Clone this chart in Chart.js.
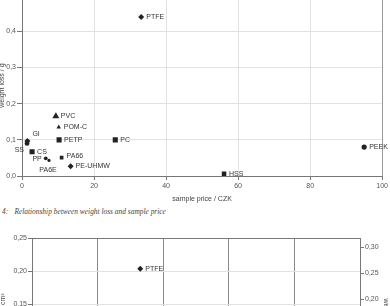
<!DOCTYPE html>
<html>
<head>
<meta charset="utf-8">
<script src="https://cdn.jsdelivr.net/npm/chart.js@4.4.1/dist/chart.umd.min.js"></script>
<style>
  html, body { margin: 0; padding: 0; background: #fff; width: 390px; height: 306px; overflow: hidden; position: relative; }
  #topWrap { position: absolute; left: 0; top: -10px; width: 390px; height: 216px; }
  #bottomWrap { position: absolute; left: 0; top: 233px; width: 390px; height: 190px; }
  #caption { position: absolute; left: 2px; top: 207px; font: italic 8.4px "Liberation Serif", "DejaVu Serif", serif; color: #444; white-space: nowrap; transform: scaleX(0.885); transform-origin: 0 0; }
  #caption span + span { margin-left: 7px; }
</style>
</head>
<body>
<div id="topWrap"><canvas id="priceChart"></canvas></div>
<div id="caption"><span>4:</span><span>Relationship between weight loss and sample price</span></div>
<div id="bottomWrap"><canvas id="volumeChart"></canvas></div>
<script>
// data
const materials = ['PTFE', 'PVC', 'POM-C', 'PETP', 'PC', 'GI', 'SS', 'CS', 'PP', 'PA6E', 'PA66', 'PE-UHMW', 'HSS', 'PEEK'];
const samplePrice = [33.1, 9.4, 10.2, 10.3, 25.9, 1.5, 1.4, 2.8, 6.6, 7.5, 11.0, 13.5, 56.1, 95.0];
const weightLoss = [0.44, 0.165, 0.135, 0.10, 0.10, 0.097, 0.09, 0.067, 0.049, 0.043, 0.051, 0.027, 0.006, 0.080];

// lower chart (only the top part is visible)
const volMaterials = ['PTFE'];
const volPrice = [33.0];
const volumeLoss = [0.2035];

const comma = (v, d) => v.toFixed(d).replace('.', ',');
const sans = '"Liberation Sans", Arial, sans-serif';
Chart.defaults.font.family = sans;
Chart.defaults.font.size = 7;
Chart.defaults.color = '#555';

// marker look per material
const markers = {
  'PTFE': ['rectRot', 3], 'PVC': ['triangle', 4], 'POM-C': ['triangle', 2.6],
  'PETP': ['rect', 3.6], 'PC': ['rect', 3.6], 'GI': ['rectRot', 3], 'SS': ['circle', 2.4],
  'CS': ['rect', 3.6], 'PP': ['circle', 1.9], 'PA6E': ['circle', 1.6], 'PA66': ['rect', 2.6],
  'PE-UHMW': ['rectRot', 3], 'HSS': ['rect', 3.2], 'PEEK': ['circle', 2.6]
};

// where the name goes relative to the marker: dx, dy, align
const placement = {
  'GI': [5, -7, 'left'], 'SS': [-3, 7, 'right'], 'PP': [-4, 1, 'right'],
  'PA6E': [-1, 10, 'center'], 'PA66': [5, -1, 'left']
};

const pointLabels = {
  id: 'pointLabels',
  afterDatasetsDraw(chart) {
    const ctx = chart.ctx;
    ctx.save();
    ctx.font = '7px ' + sans;
    ctx.fillStyle = '#333';
    ctx.textBaseline = 'middle';
    chart.data.datasets.forEach((ds, di) => {
      chart.getDatasetMeta(di).data.forEach((pt, i) => {
        const name = ds.names[i];
        const p = placement[name] || [5, 0, 'left'];
        ctx.textAlign = p[2];
        ctx.fillText(name, pt.x + p[0], pt.y + p[1]);
      });
    });
    ctx.restore();
  }
};

new Chart(document.getElementById('priceChart'), {
  type: 'scatter',
  data: {
    datasets: [{
      names: materials,
      data: samplePrice.map((x, i) => ({ x: x, y: weightLoss[i] })),
      backgroundColor: '#222',
      borderColor: '#222',
      borderWidth: 0,
      pointStyle: c => markers[materials[c.dataIndex]][0],
      pointRadius: c => markers[materials[c.dataIndex]][1]
    }]
  },
  options: {
    responsive: true,
    maintainAspectRatio: false,
    animation: false,
    layout: { padding: { left: 0, right: 5, top: 0, bottom: 0 } },
    plugins: { legend: { display: false }, tooltip: { enabled: false } },
    scales: {
      x: {
        type: 'linear', min: 0, max: 100,
        ticks: { stepSize: 20, padding: 2, color: '#555' },
        grid: {
          color: c => c.tick && c.tick.value === 100 ? '#999' : '#e2e2e2',
          tickColor: '#777', tickLength: 4
        },
        border: { color: '#777' },
        title: { display: true, text: 'sample price / CZK', color: '#444', padding: { top: 0, bottom: 3 } },
        afterFit: s => { s.width = s.width; s.height = 30; }
      },
      y: {
        min: 0, max: 0.5,
        ticks: { stepSize: 0.1, padding: 1, color: '#555', callback: v => comma(v, 1) },
        grid: { color: '#e2e2e2', tickColor: '#777', tickLength: 5 },
        border: { color: '#777' },
        title: { display: true, text: 'weight loss / g', color: '#444', padding: { top: -2, bottom: 0 } },
        afterFit: s => { s.width = 22; }
      }
    }
  },
  plugins: [pointLabels]
});

new Chart(document.getElementById('volumeChart'), {
  type: 'scatter',
  data: {
    datasets: [{
      names: volMaterials,
      data: volPrice.map((x, i) => ({ x: x, y: volumeLoss[i] })),
      backgroundColor: '#222',
      borderWidth: 0,
      pointStyle: 'rectRot',
      pointRadius: 3,
      yAxisID: 'y'
    }]
  },
  options: {
    responsive: true,
    maintainAspectRatio: false,
    animation: false,
    layout: { padding: 0 },
    plugins: { legend: { display: false }, tooltip: { enabled: false } },
    scales: {
      x: {
        type: 'linear', min: 0, max: 100,
        ticks: { stepSize: 20, display: false },
        grid: { color: '#8a8a8a', drawTicks: false },
        border: { color: '#777' },
        afterFit: s => { s.height = 20; }
      },
      y: {
        position: 'left', min: 0, max: 0.25,
        ticks: { stepSize: 0.05, padding: 1, color: '#555', callback: v => comma(v, 2) },
        grid: {
          color: c => c.tick && c.tick.value === 0.25 ? '#777' : '#e2e2e2',
          tickColor: '#777', tickLength: 4
        },
        border: { color: '#777' },
        title: { display: true, text: 'volume loss / cm³', color: '#444', padding: { top: -1, bottom: 0 } },
        afterFit: s => { s.width = 32; }
      },
      y1: {
        position: 'right', min: 0, max: 0.3175,
        ticks: { stepSize: 0.05, padding: 1, includeBounds: false, color: '#555', callback: v => comma(v, 2) },
        grid: { drawOnChartArea: false, tickColor: '#777', tickLength: 4 },
        border: { color: '#777' },
        title: { display: true, text: 'weight loss / g', color: '#444', padding: 0 },
        afterFit: s => { s.width = 30; }
      }
    }
  },
  plugins: [pointLabels]
});
</script>
</body>
</html>
